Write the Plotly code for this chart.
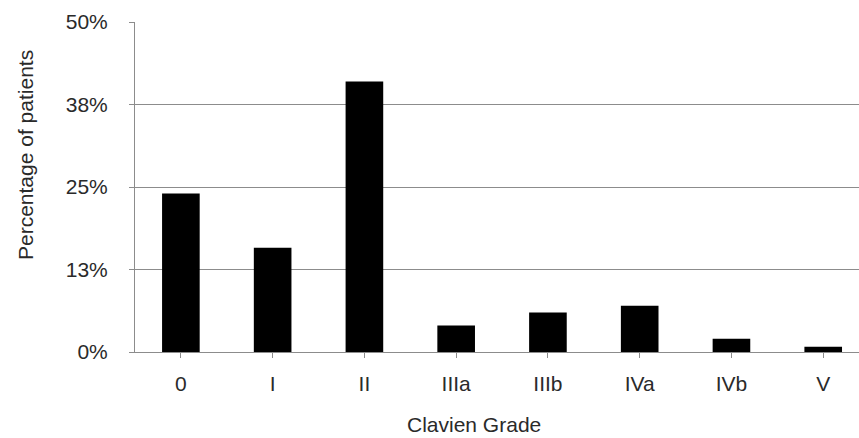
import plotly.graph_objects as go

grades = ["0", "I", "II", "IIIa", "IIIb", "IVa", "IVb", "V"]
percent = [24.0, 15.8, 41.0, 4.0, 6.0, 7.0, 2.0, 0.8]
y_tickvals = [0, 12.5, 25, 37.5, 50]
y_ticktext = ["0%", "13%", "25%", "38%", "50%"]

W, H = 859, 438
ml, mt, mb, mr = 135, 22, 86, 0

fig = go.Figure()
fig.add_trace(go.Bar(
    x=list(range(len(grades))), y=percent,
    width=0.41,
    marker=dict(color="black", line=dict(width=0)),
))

font = dict(family="Liberation Sans, Arial, sans-serif", size=21, color="#2a2a2a")

fig.update_layout(
    width=W, height=H,
    margin=dict(l=ml, r=mr, t=mt, b=mb),
    paper_bgcolor="white", plot_bgcolor="white",
    showlegend=False,
    font=font,
    xaxis=dict(
        tickmode="array",
        tickvals=list(range(len(grades))),
        ticktext=grades,
        range=[-0.5, 7.39],
        tickson="boundaries",
        ticks="outside", ticklen=5, tickcolor="#8c8c8c", tickwidth=1,
        showline=True, linecolor="#8c8c8c", linewidth=1,
        showgrid=False, zeroline=False,
        ticklabelstandoff=8,
        tickfont=font,
    ),
    yaxis=dict(
        range=[0, 50],
        tickmode="array", tickvals=y_tickvals, ticktext=y_ticktext,
        ticks="outside", ticklen=5, tickcolor="#8c8c8c", tickwidth=1,
        showline=True, linecolor="#8c8c8c", linewidth=1,
        showgrid=True, gridcolor="#8c8c8c", gridwidth=1,
        zeroline=False,
        ticklabelstandoff=17,
        tickfont=font,
    ),
    annotations=[
        dict(text="Clavien Grade", xref="paper", yref="paper",
             x=(474 - ml) / (W - ml - mr), y=-(424 - (H - mb)) / (H - mt - mb),
             xanchor="center", yanchor="middle", showarrow=False, font=font),
        dict(text="Percentage of patients", xref="paper", yref="paper",
             x=-(ml - 25) / (W - ml - mr), y=(352 - 155) / (352 - 22), textangle=-90,
             xanchor="center", yanchor="middle", showarrow=False, font=font),
    ],
)

fig.write_html("out.html", config={"displayModeBar": False},
               post_script="document.body.style.margin='0';document.body.style.overflow='hidden';")
